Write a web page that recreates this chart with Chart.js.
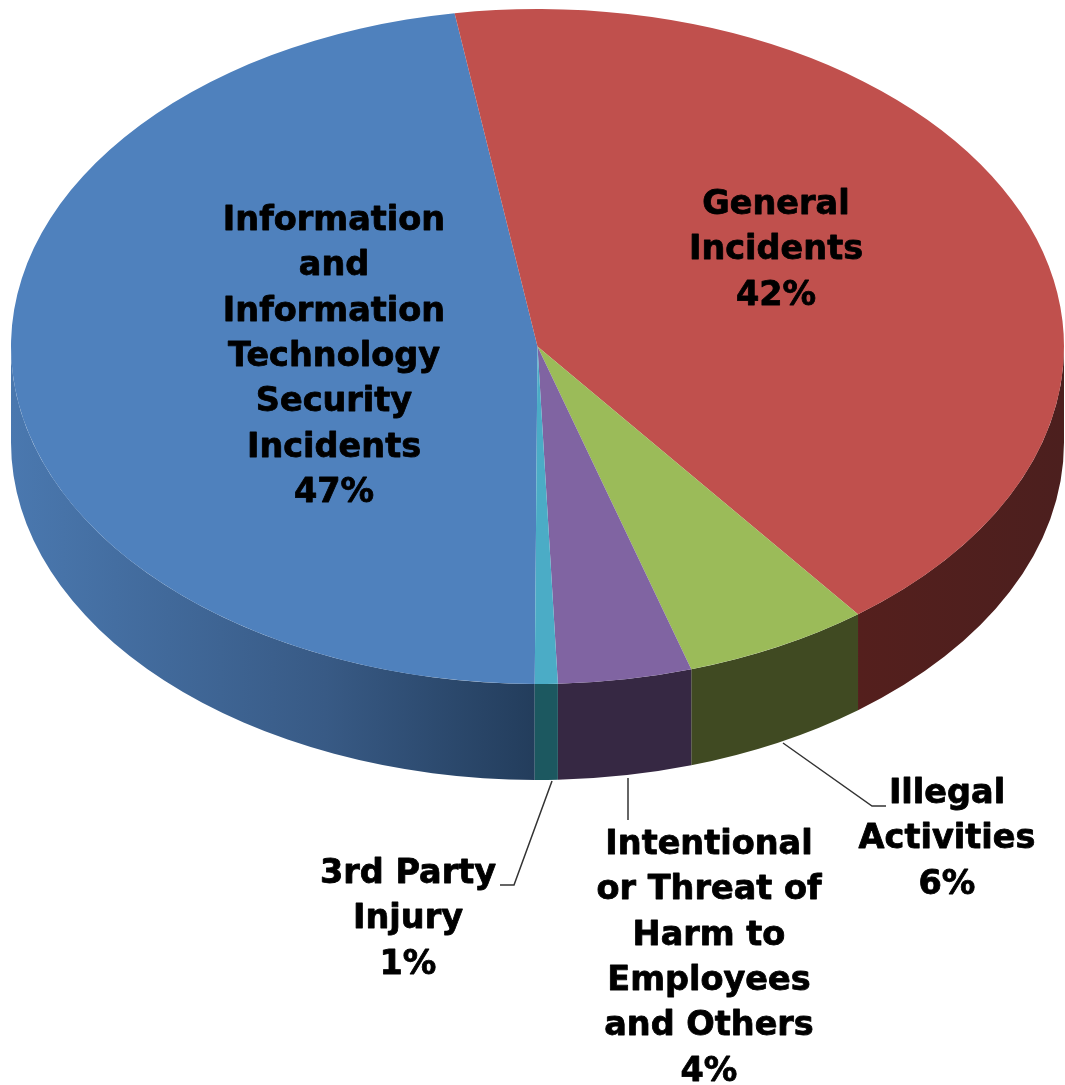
<!DOCTYPE html>
<html>
<head>
<meta charset="utf-8">
<title>Incidents by type</title>
<script src="https://cdn.jsdelivr.net/npm/chart.js@4"></script>
<style>
    html, body { margin: 0; padding: 0; background: #fff; }
    canvas { display: block; }
</style>
</head>
<body>
<canvas id="incidentChart" width="1065" height="1085"></canvas>
<script>
/* ================= DATA ================= */
const categories = [
    'Information and Information Technology Security Incidents',
    'General Incidents',
    'Illegal Activities',
    'Intentional or Threat of Harm to Employees and Others',
    '3rd Party Injury'
];
// slice sizes, the printed labels are rounded
const percentages = [47.4, 42.1, 5.7, 4.1, 0.7];
const topColors = ['#4F81BD', '#C0504D', '#9BBB59', '#8064A2', '#4BACC6'];

const labelLines = [
    ['Information', 'and', 'Information', 'Technology', 'Security', 'Incidents', '47%'],
    ['General', 'Incidents', '42%'],
    ['Illegal', 'Activities', '6%'],
    ['Intentional', 'or Threat of', 'Harm to', 'Employees', 'and Others', '4%'],
    ['3rd Party', 'Injury', '1%']
];

/* ================= LAYOUT AND STYLE ================= */
const SQUASH = 337.5 / 526.5;
const DEPTH = 96;
const LINE_HEIGHT = 45.4;
const LABEL_FONT = 'bold 33.5px "DejaVu Sans"';

// side wall colours, left to right
const wallStops = [
    [[0, '#4A78AF'], [0.3, '#41699A'], [0.6, '#385A85'], [1, '#233D5C']],
    [[0, '#541F1D'], [1, '#4C1F1E']],
    [[0, '#404A22'], [1, '#404A22']],
    [[0, '#362843'], [1, '#362843']],
    [[0, '#1C5860'], [1, '#1C5860']]
];

// centre x and first line y of each label block
const labelSpots = [[334, 221], [776, 205], [947, 794], [709, 845], [408, 874]];

const leaderLines = [
    [[783, 743], [872, 806], [886, 806]],
    [[628, 778], [628, 820]],
    [[552, 781], [514, 885], [500, 885]]
];

/* ================= 3D PIE PLUGIN ================= */
const tiltPlugin = {
    id: 'tilt',
    beforeDatasetsDraw(chart) {
        const { ctx } = chart;
        chart.getDatasetMeta(0).data.forEach((arc, i) => {
            drawWall(ctx, arc, wallStops[i]);
        });
        const { x, y } = chart.getDatasetMeta(0).data[0];
        ctx.save();
        ctx.translate(x, y);
        ctx.scale(1, SQUASH);
        ctx.translate(-x, -y);
    },
    afterDatasetsDraw(chart) {
        chart.ctx.restore();
    },
    afterDraw(chart) {
        const { ctx } = chart;
        ctx.save();

        ctx.strokeStyle = '#333';
        ctx.lineWidth = 1.5;
        leaderLines.forEach(path => {
            ctx.beginPath();
            path.forEach(([px, py], i) => (i ? ctx.lineTo(px, py) : ctx.moveTo(px, py)));
            ctx.stroke();
        });

        ctx.fillStyle = '#000';
        ctx.strokeStyle = '#000';
        ctx.lineWidth = 0.8;
        ctx.lineJoin = 'round';
        ctx.font = LABEL_FONT;
        ctx.textAlign = 'center';
        ctx.textBaseline = 'middle';
        labelLines.forEach((lines, i) => {
            lines.forEach((text, n) => {
                const ty = labelSpots[i][1] + n * LINE_HEIGHT;
                ctx.fillText(text, labelSpots[i][0], ty);
                ctx.strokeText(text, labelSpots[i][0], ty); // reference type is heavier
            });
        });
        ctx.restore();
    }
};

// only the front half of the rim is visible
function drawWall(ctx, arc, stops) {
    const { x, y, startAngle, endAngle, outerRadius } = arc.getProps(['x', 'y', 'startAngle', 'endAngle', 'outerRadius']);
    [-2, 0, 2].forEach(turn => {
        const from = Math.max(startAngle, turn * Math.PI);
        const to = Math.min(endAngle, turn * Math.PI + Math.PI);
        if (to <= from) return;

        const x0 = x + outerRadius * Math.cos(to);
        const x1 = x + outerRadius * Math.cos(from);
        const gradient = ctx.createLinearGradient(x0, 0, x1, 0);
        stops.forEach(([at, color]) => gradient.addColorStop(at, color));

        ctx.save();
        ctx.fillStyle = gradient;
        ctx.beginPath();
        ctx.ellipse(x, y, outerRadius, outerRadius * SQUASH, 0, from, to);
        ctx.ellipse(x, y + DEPTH, outerRadius, outerRadius * SQUASH, 0, to, from, true);
        ctx.closePath();
        ctx.fill();
        ctx.restore();
    });
}

/* ================= CHART ================= */
new Chart(document.getElementById('incidentChart'), {
    type: 'pie',
    data: {
        labels: categories,
        datasets: [{
            data: percentages,
            backgroundColor: topColors,
            borderWidth: 0,
            clip: false
        }]
    },
    options: {
        responsive: false,
        devicePixelRatio: 1,
        animation: false,
        rotation: 180.3,
        radius: 526.5,
        layout: { padding: { left: 10, right: 0, top: 0, bottom: 392 } },
        plugins: {
            legend: { display: false },
            tooltip: { enabled: false }
        }
    },
    plugins: [tiltPlugin]
});
</script>
</body>
</html>
